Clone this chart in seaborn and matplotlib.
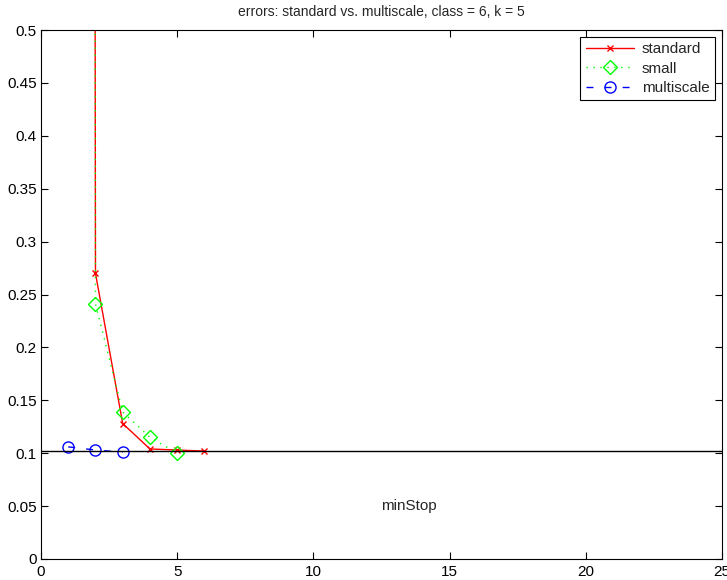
import matplotlib
matplotlib.use("Agg")
import matplotlib.pyplot as plt
import seaborn as sns
import pandas as pd

# data
std_x = [1, 2, 3, 4, 5, 6]
std_y = [20.0, 0.270, 0.128, 0.104, 0.103, 0.102]
small_x = [1, 2, 3, 4, 5]
small_y = [20.0, 0.241, 0.139, 0.115, 0.100]
multi_x = [1, 2, 3]
multi_y = [0.106, 0.103, 0.101]
min_stop = 0.102
title = "errors: standard vs. multiscale, class = 6, k = 5"

sns.set_style("ticks")
plt.rcParams['font.family'] = ['Liberation Sans', 'DejaVu Sans']

fig = plt.figure(figsize=(7.27, 5.8), dpi=100)
ax = fig.add_axes([41/727, 1-559/580, (722-41)/727, (559-30)/580])

df_s = pd.DataFrame({"x": std_x, "y": std_y})
df_m = pd.DataFrame({"x": small_x, "y": small_y})
df_u = pd.DataFrame({"x": multi_x, "y": multi_y})

sns.lineplot(data=df_s, x="x", y="y", ax=ax, color="red", lw=1, marker="x",
             markersize=5, markeredgecolor="red", markeredgewidth=1,
             linestyle="-", label="standard", sort=False)
sns.lineplot(data=df_m, x="x", y="y", ax=ax, color="#00ff00", lw=1, marker="D",
             markersize=7, markerfacecolor="none", markeredgecolor="#00ff00",
             markeredgewidth=1, linestyle=(0, (1, 4)), label="small", sort=False)
sns.lineplot(data=df_u, x="x", y="y", ax=ax, color="blue", lw=1, marker="o",
             markersize=8, markerfacecolor="none", markeredgecolor="blue",
             markeredgewidth=1, linestyle=(0, (5, 8)), label="multiscale", sort=False)

ax.axhline(min_stop, color="black", lw=1)
ax.text(13.5, 0.05, "minStop", ha="center", va="center", fontsize=11)

ax.set_xlim(0, 25)
ax.set_ylim(0, 0.5)
ax.set_xticks([0, 5, 10, 15, 20, 25])
ax.set_yticks([0, 0.05, 0.1, 0.15, 0.2, 0.25, 0.3, 0.35, 0.4, 0.45, 0.5])
ax.set_yticklabels(["0", "0.05", "0.1", "0.15", "0.2", "0.25", "0.3", "0.35", "0.4", "0.45", "0.5"])
ax.tick_params(direction="in", top=True, right=True, labelsize=11, length=5, width=0.8, colors="black")
ax.tick_params(axis="x", pad=4)
ax.tick_params(axis="y", pad=3)
ax.set_xlabel("")
ax.set_ylabel("")
for s in ax.spines.values():
    s.set_visible(True)
    s.set_color("black")
    s.set_linewidth(0.8)
ax.set_title(title, fontsize=10, pad=10)

leg = ax.legend(loc="upper right", fontsize=11, frameon=True, fancybox=False,
                edgecolor="black", framealpha=1, borderaxespad=0.45,
                handlelength=3.2, borderpad=0.35, labelspacing=0.35, handletextpad=0.5)
leg.get_frame().set_linewidth(0.8)

fig.savefig("out.png", dpi=100)
